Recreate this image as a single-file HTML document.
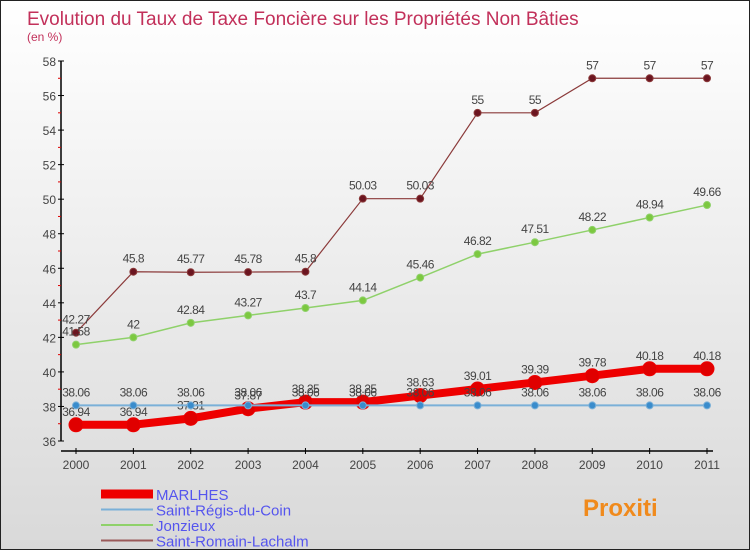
<!DOCTYPE html>
<html><head><meta charset="utf-8"><style>
body{margin:0}
#wrap{width:748px;height:548px;border:1px solid #222;background:linear-gradient(#fff,#d9d9d9);position:relative;font-family:"Liberation Sans",sans-serif;overflow:hidden}
</style></head><body>
<div id="wrap">
<svg id="svg" width="748" height="548"></svg>
</div>
<script>
const years=["2000","2001","2002","2003","2004","2005","2006","2007","2008","2009","2010","2011"];
const marlhes=[36.94,36.94,37.31,37.87,38.25,38.25,38.63,39.01,39.39,39.78,40.18,40.18];
const stRegis=[38.06,38.06,38.06,38.06,38.06,38.06,38.06,38.06,38.06,38.06,38.06,38.06];
const jonzieux=[41.58,42,42.84,43.27,43.7,44.14,45.46,46.82,47.51,48.22,48.94,49.66];
const stRomain=[42.27,45.8,45.77,45.78,45.8,50.03,50.03,55,55,57,57,57];
const yTicks=[36,38,40,42,44,46,48,50,52,54,56,58];
const NS="http://www.w3.org/2000/svg";
const svg=document.getElementById('svg');
const x=i=>75+i*(706-75)/11;
const y=v=>440-(v-36)*(380/22);
function mk(t,a,p){const e=document.createElementNS(NS,t);for(const k in a)e.setAttribute(k,a[k]);(p||svg).appendChild(e);return e;}
let e;
e=mk('text',{x:26,y:24,fill:'#c2305a','font-size':19});e.textContent='Evolution du Taux de Taxe Foncière sur les Propriétés Non Bâties';


e=mk('text',{x:26,y:40,fill:'#c2305a','font-size':12});e.textContent='(en %)';


mk('line',{x1:60,y1:60,x2:60,y2:440,stroke:'#000','stroke-width':1.5});
mk('line',{x1:60,y1:450,x2:712,y2:450,stroke:'#000','stroke-width':1.5});
yTicks.forEach(v=>{mk('line',{x1:57,y1:y(v),x2:63,y2:y(v),stroke:'#000'});
 if(v<58)mk('line',{x1:57,y1:y(v+1),x2:60,y2:y(v+1),stroke:'#d00'});
 e=mk('text',{x:55,y:y(v)+5,'text-anchor':'end','font-size':12,fill:'#444'});e.textContent=v;
 
 });
years.forEach((yr,i)=>{mk('line',{x1:x(i),y1:447,x2:x(i),y2:453,stroke:'#000'});
 e=mk('text',{x:x(i),y:468,'text-anchor':'middle','font-size':12,fill:'#444'});e.textContent=yr;
 
 });
function series(data,color,w,r,name,dark){
 const g=mk('g',{});
 
 
 mk('polyline',{points:data.map((v,i)=>x(i)+','+y(v)).join(' '),fill:'none',stroke:color,'stroke-width':w},g);
 data.forEach((v,i)=>{const c=mk('circle',{cx:x(i),cy:y(v),r:r,fill:dark,stroke:color,'stroke-width':1},g);
  
  
  const t=mk('text',{x:x(i),y:y(v)-9,'text-anchor':'middle','font-size':12,fill:'#444','letter-spacing':'-0.5'},g);t.textContent=v;
  
  });
}
series(stRomain,'#8b3a3a',1.2,3.5,'saint-romain-series','#6b1520');
series(jonzieux,'#8fd16a',1.5,3.5,'jonzieux-series','#7cc840');
series(marlhes,'#ee0000',8,7,'marlhes-series','#e00000');
series(stRegis,'#7ab0d8',2,3.5,'saint-regis-series','#3a8ccc');
const leg=[['MARLHES','#ee0000',9],['Saint-Régis-du-Coin','#7ab0d8',2],['Jonzieux','#8fd16a',2],['Saint-Romain-Lachalm','#9b5a5a',2]];
leg.forEach((l,i)=>{const yy=493+i*15.5;
 const g=mk('g',{});
 mk('line',{x1:100,y1:yy,x2:152,y2:yy,stroke:l[1],'stroke-width':l[2]},g);
 const t=mk('text',{x:155,y:yy+6,'font-size':15,fill:'#5555ee'},g);t.textContent=l[0];});
e=mk('text',{x:582,y:515,'font-size':24,'font-weight':'bold',fill:'#f08a1c'});e.textContent='Proxiti';


</script>
</body></html>
